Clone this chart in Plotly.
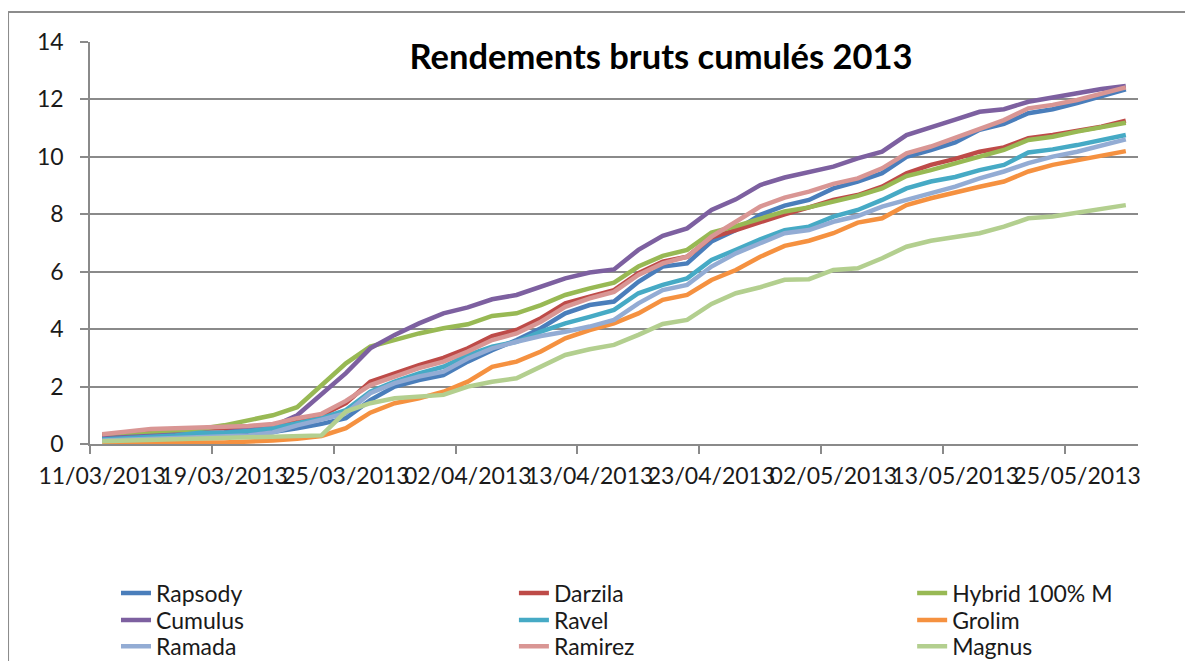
import plotly.graph_objects as go

# ---- data ----
tick_positions = [0, 5, 10, 15, 20, 25, 30, 35, 40]
tick_labels = ["11/03/2013", "19/03/2013", "25/03/2013", "02/04/2013", "13/04/2013",
               "23/04/2013", "02/05/2013", "13/05/2013", "25/05/2013"]
n_points = 43

rapsody = [0.15, 0.2, 0.25, 0.3, 0.33, 0.35, 0.38, 0.42, 0.55, 0.7,
           0.9, 1.53, 2.0, 2.23, 2.4, 2.87, 3.27, 3.62, 4.03,
           4.55, 4.84, 4.96, 5.65, 6.18, 6.29, 7.05, 7.45, 7.98, 8.3,
           8.5, 8.9, 9.14, 9.43, 10.0, 10.24, 10.5,
           10.94, 11.15, 11.52, 11.66, 11.87, 12.12, 12.35]
darzila = [0.3, 0.38, 0.45, 0.5, 0.52, 0.55, 0.58, 0.65, 0.85, 1.0,
           1.42, 2.17, 2.48, 2.75, 3.0, 3.33, 3.76, 3.97, 4.38,
           4.9, 5.13, 5.36, 5.95, 6.35, 6.52, 7.2, 7.45, 7.74, 8.0,
           8.24, 8.5, 8.67, 8.96, 9.43, 9.72, 9.93,
           10.18, 10.33, 10.65, 10.76, 10.91, 11.05, 11.26]
hybrid = [0.22, 0.3, 0.38, 0.45, 0.52, 0.65, 0.82, 1.0, 1.28, 2.05,
          2.81, 3.39, 3.62, 3.85, 4.03, 4.17, 4.46, 4.55, 4.84,
          5.19, 5.42, 5.62, 6.18, 6.55, 6.76, 7.36, 7.59, 7.86, 8.1,
          8.24, 8.44, 8.64, 8.9, 9.33, 9.54, 9.78,
          10.01, 10.24, 10.59, 10.7, 10.88, 11.03, 11.19]
cumulus = [0.2, 0.25, 0.3, 0.32, 0.35, 0.4, 0.5, 0.62, 1.0, 1.75,
           2.47, 3.33, 3.8, 4.2, 4.55, 4.76, 5.04, 5.19, 5.46,
           5.77, 5.97, 6.08, 6.76, 7.25, 7.51, 8.15, 8.52, 9.02, 9.28,
           9.49, 9.66, 9.95, 10.18, 10.76, 11.05, 11.3,
           11.57, 11.66, 11.92, 12.07, 12.19, 12.36, 12.47]
ravel = [0.16, 0.2, 0.25, 0.3, 0.39, 0.39, 0.45, 0.55, 0.72, 0.9,
         1.18, 1.82, 2.17, 2.46, 2.69, 3.1, 3.39, 3.56, 3.91,
         4.2, 4.43, 4.67, 5.25, 5.54, 5.77, 6.41, 6.76, 7.13, 7.45,
         7.57, 7.92, 8.15, 8.5, 8.9, 9.14, 9.3,
         9.54, 9.72, 10.15, 10.26, 10.41, 10.59, 10.76]
grolim = [0.0, 0.02, 0.03, 0.05, 0.05, 0.05, 0.08, 0.12, 0.18, 0.28,
          0.55, 1.09, 1.42, 1.59, 1.82, 2.17, 2.69, 2.87, 3.22,
          3.68, 3.97, 4.2, 4.55, 5.02, 5.19, 5.71, 6.06, 6.52, 6.9,
          7.08, 7.34, 7.71, 7.86, 8.32, 8.56, 8.77,
          8.96, 9.14, 9.49, 9.72, 9.89, 10.03, 10.2]
ramada = [0.12, 0.15, 0.18, 0.2, 0.22, 0.25, 0.3, 0.4, 0.65, 0.85,
          1.07, 1.77, 2.12, 2.35, 2.52, 2.98, 3.33, 3.56, 3.76,
          3.91, 4.09, 4.32, 4.9, 5.36, 5.54, 6.18, 6.64, 6.99, 7.34,
          7.45, 7.74, 7.94, 8.27, 8.5, 8.73, 8.96,
          9.25, 9.49, 9.78, 10.01, 10.18, 10.41, 10.61]
ramirez = [0.34, 0.43, 0.52, 0.55, 0.57, 0.58, 0.63, 0.7, 0.9, 1.05,
           1.5, 2.05, 2.35, 2.64, 2.87, 3.22, 3.62, 3.85, 4.26,
           4.78, 5.07, 5.3, 5.89, 6.29, 6.52, 7.22, 7.74, 8.27, 8.58,
           8.79, 9.06, 9.25, 9.6, 10.12, 10.36, 10.68,
           11.0, 11.28, 11.69, 11.81, 11.98, 12.22, 12.42]
magnus = [0.1, 0.12, 0.15, 0.18, 0.2, 0.2, 0.22, 0.25, 0.28, 0.3,
          1.13, 1.42, 1.59, 1.65, 1.71, 2.0, 2.17, 2.29, 2.69,
          3.1, 3.3, 3.45, 3.8, 4.18, 4.32, 4.88, 5.25, 5.46, 5.72,
          5.74, 6.06, 6.12, 6.47, 6.87, 7.08, 7.2,
          7.34, 7.57, 7.86, 7.92, 8.06, 8.17, 8.32]

series_names = ["Rapsody", "Darzila", "Hybrid 100% M", "Cumulus", "Ravel", "Grolim",
                "Ramada", "Ramirez", "Magnus"]
series_values = [rapsody, darzila, hybrid, cumulus, ravel, grolim, ramada, ramirez, magnus]
series_colors = ["#4A7EBB", "#BE4B48", "#98B954", "#7D60A0", "#46AAC5", "#F59140",
                 "#93ACD4", "#D99694", "#B3CF8F"]

x_idx = list(range(n_points))

FONT = "Lato, Calibri, Carlito, sans-serif"
GRID = "#8A8A8A"

# legend grid: 3 columns x 3 rows, filled row by row (like the original)
legend_col_x = [0.0248, 0.4045, 0.7845]
legend_row_y = [-0.371, -0.438, -0.503]

fig = go.Figure()
legends = {}
for k, (name, vals, col) in enumerate(zip(series_names, series_values, series_colors)):
    lname = "legend" if k == 0 else f"legend{k + 1}"
    fig.add_trace(go.Scatter(x=x_idx, y=vals, mode="lines", name=name, legend=lname,
                             line=dict(color=col, width=4.5)))
    legends[lname] = dict(x=legend_col_x[k % 3], xanchor="left",
                          y=legend_row_y[k // 3], yanchor="middle",
                          font=dict(family=FONT, size=23, color="#1a1a1a"),
                          bgcolor="rgba(0,0,0,0)", itemclick=False)

fig.update_layout(
    width=1193, height=661,
    margin=dict(l=82, r=63, t=34, b=225, autoexpand=False),
    paper_bgcolor="white", plot_bgcolor="white",
    font=dict(family=FONT, size=23, color="#1a1a1a"),
    title=dict(text="<b>Rendements bruts cumulés 2013</b>", x=0.5474, xanchor="center",
               y=0.926, yanchor="middle", font=dict(family=FONT, size=34.5, color="black")),
    xaxis=dict(range=[-0.5, n_points - 0.5], tickmode="array", tickvals=tick_positions,
               ticktext=tick_labels, ticks="", tickangle=0, showgrid=False, zeroline=False,
               showline=True, linecolor=GRID, linewidth=1.5,
               tickfont=dict(family=FONT, size=23, color="#1a1a1a"),
               ticklabelstandoff=11,
               minor=dict(tickmode="linear", tick0=-0.5, dtick=5, ticks="outside",
                          ticklen=8, tickcolor=GRID, tickwidth=1.5, showgrid=False)),
    yaxis=dict(range=[0, 14], dtick=2, tick0=0, showgrid=True, gridcolor=GRID, gridwidth=1.5,
               zeroline=False, showline=True, linecolor=GRID, linewidth=1.5,
               ticks="outside", ticklen=8, tickcolor=GRID, tickwidth=1.5,
               ticklabelstandoff=12,
               tickfont=dict(family=FONT, size=23, color="#1a1a1a")),
    showlegend=True,
    **legends,
)

# outer chart frame (left and top edges, the rest lies outside the captured area)
fig.add_shape(type="line", xref="paper", yref="paper", x0=-0.0782, x1=-0.0782,
              y0=1.0746, y1=-0.7, line=dict(color="#8C8C8C", width=2))
fig.add_shape(type="line", xref="paper", yref="paper", x0=-0.0782, x1=1.2,
              y0=1.0746, y1=1.0746, line=dict(color="#8C8C8C", width=2))

fig.write_html("out.html")
